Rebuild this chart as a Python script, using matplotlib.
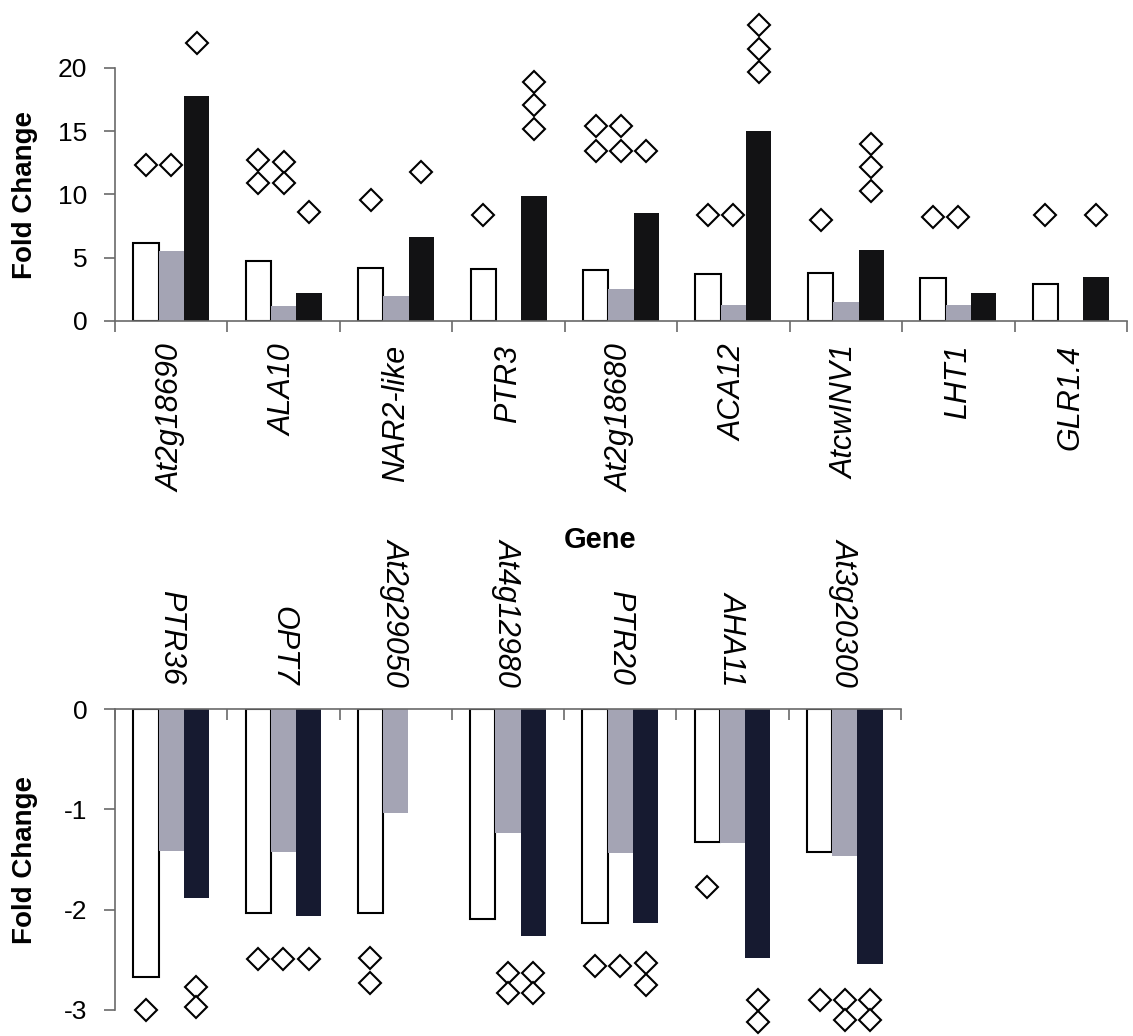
import numpy as np
import matplotlib.pyplot as plt

plt.rcParams['font.family'] = ['Liberation Sans', 'DejaVu Sans']
plt.rcParams['axes.unicode_minus'] = False

# up-regulated genes (top panel)
up_genes = ['At2g18690', 'ALA10', 'NAR2-like', 'PTR3', 'At2g18680', 'ACA12', 'AtcwINV1', 'LHT1', 'GLR1.4']
up_white = [6.2, 4.7, 4.2, 4.1, 4.0, 3.7, 3.8, 3.4, 2.9]
up_gray = [5.5, 1.2, 2.0, np.nan, 2.5, 1.3, 1.5, 1.3, np.nan]
up_black = [17.8, 2.2, 6.6, 9.9, 8.5, 15.0, 5.6, 2.2, 3.5]
up_white_pts = [[12.3], [12.7, 10.9], [9.6], [8.4], [15.4, 13.4], [8.4], [8.0], [8.2], [8.4]]
up_gray_pts = [[12.3], [12.6, 10.9], [], [], [15.4, 13.4], [8.4], [], [8.2], []]
up_black_pts = [[22.0], [8.6], [11.8], [18.9, 17.1, 15.2], [13.4], [23.4, 21.5, 19.7],
                [14.0, 12.2, 10.3], [], [8.4]]

# down-regulated genes (bottom panel)
down_genes = ['PTR36', 'OPT7', 'At2g29050', 'At4g12980', 'PTR20', 'AHA11', 'At3g20300']
down_white = [-2.67, -2.03, -2.03, -2.09, -2.13, -1.33, -1.43]
down_gray = [-1.42, -1.43, -1.04, -1.24, -1.44, -1.34, -1.46]
down_black = [-1.88, -2.06, np.nan, -2.26, -2.13, -2.48, -2.54]
down_white_pts = [[-3.0], [-2.49], [-2.48, -2.73], [], [-2.56], [-1.77], [-2.9]]
down_gray_pts = [[], [-2.49], [], [-2.63, -2.83], [-2.56], [], [-2.9, -3.1]]
down_black_pts = [[-2.77, -2.97], [-2.49], [], [-2.63, -2.83], [-2.53, -2.75], [-2.9, -3.12], [-2.9, -3.1]]

W = 0.225
GRAY = '#a4a4b4'
AXC = '#6a6a6a'


def draw_panel(ax, genes, white, gray, black, pts, black_col):
    n = len(genes)
    x = np.arange(n) + 0.5
    ax.bar(x - W, white, W, color='white', edgecolor='black', linewidth=1.5, zorder=2)
    ax.bar(x, gray, W, color=GRAY, edgecolor='none', zorder=2)
    ax.bar(x + W, black, W, color=black_col, edgecolor='none', zorder=2)
    for off, series in zip([-W, 0, W], pts):
        for i, vals in enumerate(series):
            if vals:
                ax.plot([x[i] + off] * len(vals), vals, linestyle='none', marker='D',
                        ms=11.5, mfc='white', mec='black', mew=1.5,
                        clip_on=False, zorder=3)
    ax.set_xlim(0, n)
    ax.set_xticks(x)
    ax.set_xticklabels(genes, rotation=90, fontsize=22, style='italic')
    ax.set_xticks(np.arange(n + 1), minor=True)
    ax.tick_params(axis='x', which='major', length=0, pad=17)
    ax.tick_params(axis='x', which='minor', length=8, width=1.2, color=AXC)
    ax.tick_params(axis='y', length=8, width=1.2, color=AXC, labelsize=19, pad=12)
    for s in ['right', 'top', 'left', 'bottom']:
        ax.spines[s].set_color(AXC)
        ax.spines[s].set_linewidth(1.2)


fig = plt.figure(figsize=(11.33, 10.36), dpi=100)

ax1 = fig.add_axes([0.1015, 0.6902, 0.8932, 0.2442])
draw_panel(ax1, up_genes, up_white, up_gray, up_black,
           [up_white_pts, up_gray_pts, up_black_pts], '#121214')
ax1.set_ylim(0, 20)
ax1.set_yticks([0, 5, 10, 15, 20])
ax1.spines['right'].set_visible(False)
ax1.spines['top'].set_visible(False)

ax2 = fig.add_axes([0.1015, 0.0251, 0.6937, 0.2905])
draw_panel(ax2, down_genes, down_white, down_gray, down_black,
           [down_white_pts, down_gray_pts, down_black_pts], '#161a30')
ax2.set_ylim(-3, 0)
ax2.set_yticks([-3, -2, -1, 0])
ax2.spines['right'].set_visible(False)
ax2.spines['bottom'].set_visible(False)
ax2.xaxis.tick_top()
ax2.tick_params(axis='x', which='minor', direction='in')
for lab in ax2.get_xticklabels():
    lab.set_rotation(270)

# axis titles
for yc in [1 - 195 / 1036, 1 - 860 / 1036]:
    fig.text(25 / 1133, yc, 'Fold Change', rotation=90, ha='center', va='center',
             fontsize=20, fontweight='bold')
fig.text(600 / 1133, 1 - 540 / 1036, 'Gene', ha='center', va='center', fontsize=21,
         fontweight='bold', family=['Liberation Sans Narrow', 'Liberation Sans'])

fig.savefig('out.png', dpi=100, facecolor='white')
